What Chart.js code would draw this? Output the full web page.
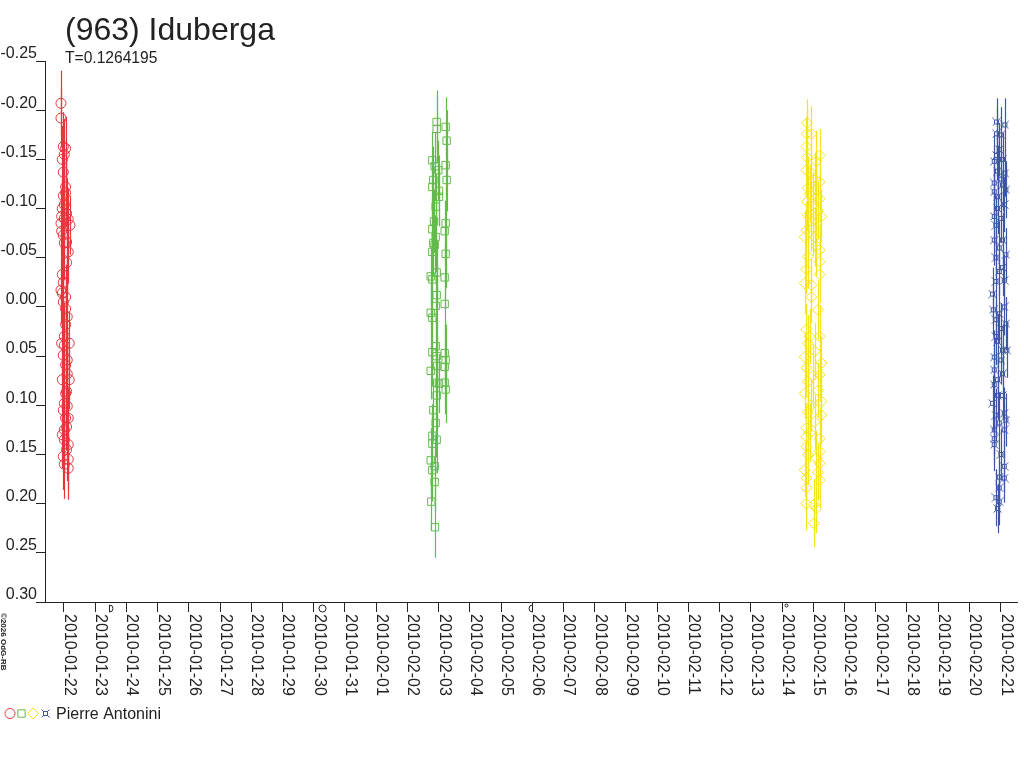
<!DOCTYPE html>
<html>
<head>
  <title>(963) Iduberga</title>
  <script src="https://cdn.jsdelivr.net/npm/chart.js"></script>
  <style>body { margin: 0; background: #fff; }</style>
</head>
<body>
  <canvas id="lc" width="1024" height="768"></canvas>

  <script>
    const title = '(963) Iduberga';
    const subtitle = 'T=0.1264195';
    const observer = 'Pierre Antonini';
    const credit = '\u00a92026 OdG-RB';

    // x in days since 2010-01-22 00:00 UT
    const xMin = -0.607, xMax = 30.543;
    const xTickDays = [0, 1, 2, 3, 4, 5, 6, 7, 8, 9, 10, 11, 12, 13, 14, 15,
      16, 17, 18, 19, 20, 21, 22, 23, 24, 25, 26, 27, 28, 29, 30];
    const xTickLabels = ['2010-01-22', '2010-01-23', '2010-01-24', '2010-01-25', '2010-01-26',
      '2010-01-27', '2010-01-28', '2010-01-29', '2010-01-30', '2010-01-31', '2010-02-01',
      '2010-02-02', '2010-02-03', '2010-02-04', '2010-02-05', '2010-02-06', '2010-02-07',
      '2010-02-08', '2010-02-09', '2010-02-10', '2010-02-11', '2010-02-12', '2010-02-13',
      '2010-02-14', '2010-02-15', '2010-02-16', '2010-02-17', '2010-02-18', '2010-02-19',
      '2010-02-20', '2010-02-21'];
    const yTickValues = [-0.25, -0.20, -0.15, -0.10, -0.05, 0, 0.05, 0.10, 0.15, 0.20, 0.25, 0.30];
    const yTickLabels = ['-0.25', '-0.20', '-0.15', '-0.10', '-0.05', '0.00', '0.05', '0.10',
      '0.15', '0.20', '0.25', '0.30'];

    const moonDays = [1.45, 8.26, 14.99, 23.12];
    const moonPhases = ['first', 'full', 'last', 'new'];

    // session 1 (2010-01-22)
    const redDays = [
      -0.096, -0.096, -0.021, 0.053, -0.053, 0.011, -0.021, 0.053, 0.053, -0.021,
      -0.074, 0.011, 0.138, 0.192, -0.074, -0.021, 0.085, 0.138, -0.053, -0.096,
      -0.053, -0.021, 0.053, 0.106, 0.053, 0.011, -0.074, 0.011, 0.170, -0.021,
      0.106, 0.053, -0.053, 0.170, 0.085, 0.011, 0.106, -0.021, 0.053, 0.138,
      0.085, 0.011, 0.011, 0.138, -0.021, 0.138, 0.011, 0.138, -0.053, 0.011,
      -0.096, 0.085, 0.011, 0.085, -0.021, 0.053, 0.106, 0.053, -0.053, 0.085];
    const redMags = [
      -0.207, -0.192, -0.163, -0.161, -0.150, -0.155, -0.137, -0.122, -0.116, -0.113,
      -0.092, -0.090, -0.089, -0.083, -0.077, -0.073, -0.066, -0.056, -0.033, -0.017,
      -0.014, -0.005, -0.010, 0.010, 0.018, 0.030, 0.037, 0.039, 0.037, 0.049,
      0.054, 0.059, 0.074, 0.074, 0.086, 0.098, 0.101, 0.105, 0.113, 0.113,
      0.122, 0.125, 0.135, 0.140, 0.152, 0.155, 0.160, 0.164, -0.100, -0.104,
      -0.085, -0.095, -0.065, -0.045, -0.025, 0.002, 0.068, 0.088, 0.130, 0.145];
    const redErrs = [
      0.033, 0.030, 0.035, 0.032, 0.034, 0.036, 0.033, 0.038, 0.035, 0.040,
      0.036, 0.034, 0.031, 0.030, 0.037, 0.039, 0.033, 0.032, 0.035, 0.034,
      0.036, 0.038, 0.033, 0.035, 0.037, 0.034, 0.036, 0.033, 0.031, 0.035,
      0.034, 0.036, 0.033, 0.030, 0.035, 0.034, 0.032, 0.036, 0.033, 0.031,
      0.034, 0.035, 0.033, 0.030, 0.034, 0.031, 0.035, 0.032, 0.037, 0.035,
      0.034, 0.036, 0.038, 0.033, 0.036, 0.034, 0.033, 0.035, 0.034, 0.032];

    // session 2 (2010-02-02/03)
    const greenDays = [
      11.938, 12.226, 11.938, 12.258, 11.800, 12.226, 11.874, 11.991, 12.258, 11.832,
      11.800, 12.013, 12.013, 11.906, 12.226, 11.853, 11.800, 12.194, 11.906, 11.832,
      11.874, 11.800, 12.226, 11.938, 11.747, 11.800, 12.194, 11.938, 11.906, 12.194,
      11.747, 11.800, 11.906, 12.194, 11.800, 11.938, 12.226, 11.959, 12.194, 11.747,
      11.906, 12.194, 12.013, 12.226, 11.938, 11.832, 11.906, 11.800, 11.938, 11.800,
      11.747, 11.874, 11.800, 11.874, 11.767, 11.885];
    const greenMags = [
      -0.188, -0.183, -0.181, -0.169, -0.149, -0.144, -0.143, -0.139, -0.129, -0.129,
      -0.122, -0.118, -0.112, -0.102, -0.085, -0.087, -0.079, -0.077, -0.071, -0.065,
      -0.063, -0.056, -0.054, -0.035, -0.031, -0.028, -0.030, -0.012, -0.001, -0.003,
      0.006, 0.011, 0.040, 0.047, 0.046, 0.050, 0.054, 0.060, 0.061, 0.065,
      0.077, 0.077, 0.078, 0.084, 0.090, 0.105, 0.118, 0.131, 0.135, 0.139,
      0.156, 0.162, 0.166, 0.178, 0.198, 0.224];
    const greenErrs = [
      0.032, 0.030, 0.034, 0.031, 0.029, 0.033, 0.035, 0.030, 0.032, 0.034,
      0.031, 0.036, 0.030, 0.033, 0.035, 0.032, 0.034, 0.031, 0.036, 0.033,
      0.030, 0.032, 0.035, 0.031, 0.029, 0.034, 0.033, 0.036, 0.032, 0.030,
      0.031, 0.035, 0.033, 0.030, 0.034, 0.032, 0.036, 0.031, 0.033, 0.029,
      0.035, 0.032, 0.030, 0.034, 0.033, 0.031, 0.035, 0.032, 0.034, 0.030,
      0.033, 0.031, 0.032, 0.030, 0.029, 0.031];

    // session 3 (2010-02-14/15)
    const yellowDays = [
      23.800, 23.940, 23.800, 23.780, 24.206, 23.800, 24.100, 23.780, 23.940, 24.206,
      23.830, 24.100, 24.206, 23.800, 23.990, 23.830, 24.260, 23.940, 23.780, 23.727,
      24.046, 24.206, 23.830, 24.206, 23.780, 24.206, 23.727, 23.940, 24.153, 23.780,
      23.886, 24.206, 23.830, 23.727, 24.260, 23.780, 24.206, 23.830, 23.727, 24.260,
      23.940, 23.830, 24.260, 24.046, 23.780, 23.780, 24.206, 23.780, 24.206, 23.830,
      24.100, 24.206, 23.727, 24.153, 23.780, 24.206, 23.780, 23.780, 24.020, 24.100,
      24.020, 23.886, 23.990, 24.100, 23.940, 24.046, 23.990, 24.153, 23.886, 24.046,
      24.153];
    const yellowMags = [
      -0.187, -0.176, -0.176, -0.163, -0.154, -0.152, -0.148, -0.139, -0.136, -0.127,
      -0.121, -0.119, -0.110, -0.107, -0.104, -0.093, -0.092, -0.087, -0.078, -0.071,
      -0.071, -0.058, -0.051, -0.046, -0.038, -0.033, -0.024, -0.022, 0.003, 0.023,
      0.030, 0.030, 0.037, 0.051, 0.057, 0.062, 0.069, 0.076, 0.088, 0.096,
      0.100, 0.107, 0.110, 0.117, 0.123, 0.132, 0.134, 0.142, 0.147, 0.150,
      0.154, 0.159, 0.166, 0.168, 0.174, 0.176, 0.184, 0.200, 0.201, 0.205,
      0.220, -0.115, -0.080, -0.062, -0.010, 0.045, 0.070, 0.085, 0.128, -0.130,
      -0.098];
    const yellowErrs = [
      0.024, 0.028, 0.026, 0.030, 0.027, 0.025, 0.031, 0.028, 0.026, 0.029,
      0.032, 0.027, 0.025, 0.030, 0.033, 0.028, 0.026, 0.031, 0.029, 0.027,
      0.030, 0.026, 0.032, 0.028, 0.025, 0.029, 0.031, 0.027, 0.030, 0.026,
      0.028, 0.032, 0.029, 0.025, 0.027, 0.030, 0.028, 0.031, 0.026, 0.029,
      0.027, 0.032, 0.030, 0.028, 0.025, 0.029, 0.031, 0.027, 0.026, 0.030,
      0.028, 0.025, 0.027, 0.029, 0.026, 0.028, 0.025, 0.027, 0.026, 0.025,
      0.024, 0.030, 0.028, 0.031, 0.027, 0.029, 0.032, 0.028, 0.030, 0.027,
      0.029];

    // session 4 (2010-02-20/21)
    const blueDays = [
      29.872, 30.138, 29.872, 30.011, 29.872, 30.064, 29.798, 29.904, 30.138, 29.798,
      30.064, 29.798, 30.170, 29.904, 30.117, 29.798, 30.011, 29.851, 29.798, 30.064,
      30.170, 29.851, 29.957, 29.851, 30.117, 29.744, 30.117, 29.766, 29.957, 29.851,
      30.170, 29.851, 30.064, 30.202, 29.798, 30.011, 29.798, 30.064, 29.904, 29.798,
      29.904, 29.744, 30.117, 30.170, 29.957, 29.798, 30.117, 29.798, 29.798, 30.117,
      29.957, 30.117, 29.957, 29.851, 29.957, 29.904, 29.957, 30.011, 29.904, 30.064,
      29.957, 30.011, 29.904, 30.064, 29.851, 30.011];
    const blueMags = [
      -0.188, -0.185, -0.176, -0.175, -0.154, -0.150, -0.148, -0.138, -0.136, -0.126,
      -0.124, -0.117, -0.119, -0.112, -0.104, -0.092, -0.090, -0.083, -0.068, -0.068,
      -0.053, -0.050, -0.036, -0.026, -0.027, -0.013, 0.000, 0.003, 0.007, 0.013,
      0.017, 0.030, 0.044, 0.044, 0.051, 0.054, 0.064, 0.068, 0.074, 0.079,
      0.090, 0.098, 0.108, 0.115, 0.118, 0.125, 0.125, 0.134, 0.140, 0.162,
      0.173, 0.174, 0.184, 0.194, 0.198, 0.205, -0.160, -0.130, -0.100, -0.040,
      -0.060, 0.022, 0.035, 0.090, 0.110, 0.150];
    const blueErrs = [
      0.024, 0.027, 0.026, 0.028, 0.025, 0.027, 0.029, 0.026, 0.024, 0.028,
      0.027, 0.025, 0.029, 0.026, 0.028, 0.027, 0.025, 0.030, 0.026, 0.028,
      0.027, 0.029, 0.025, 0.028, 0.026, 0.027, 0.029, 0.026, 0.028, 0.025,
      0.027, 0.029, 0.026, 0.028, 0.027, 0.025, 0.028, 0.026, 0.029, 0.027,
      0.025, 0.028, 0.026, 0.027, 0.029, 0.026, 0.028, 0.025, 0.027, 0.026,
      0.028, 0.025, 0.027, 0.029, 0.024, 0.025, 0.027, 0.028, 0.026, 0.029,
      0.027, 0.026, 0.028, 0.025, 0.027, 0.026];

    const ink = '#222';
    const fontFamily = '"Liberation Sans", Arial, sans-serif';
    Chart.defaults.font.family = fontFamily;

    // blue marker: little square with diagonal spikes, like ¤
    function blueMarker(color) {
      const c = document.createElement('canvas');
      c.width = 9; c.height = 9;
      const g = c.getContext('2d');
      g.strokeStyle = color;
      g.lineWidth = 1;
      g.strokeRect(2.5, 2.5, 4, 4);
      g.beginPath();
      g.moveTo(0.5, 0.5); g.lineTo(2.5, 2.5);
      g.moveTo(8.5, 0.5); g.lineTo(6.5, 2.5);
      g.moveTo(0.5, 8.5); g.lineTo(2.5, 6.5);
      g.moveTo(8.5, 8.5); g.lineTo(6.5, 6.5);
      g.stroke();
      return c;
    }

    function points(days, mags, errs) {
      return days.map((d, i) => ({ x: d, y: mags[i], err: errs[i] }));
    }

    const sessions = [
      { color: '#e8363e', style: 'circle', radius: 5, days: redDays, mags: redMags, errs: redErrs },
      { color: '#63bb4b', style: 'rect', radius: 5.2, days: greenDays, mags: greenMags, errs: greenErrs },
      { color: '#f5e31d', style: 'rectRot', radius: 5.5, days: yellowDays, mags: yellowMags, errs: yellowErrs },
      { color: '#3d56a6', style: null, radius: 4.5, days: blueDays, mags: blueMags, errs: blueErrs }
    ];
    sessions[3].style = blueMarker(sessions[3].color);

    const datasets = sessions.map((s) => ({
      data: points(s.days, s.mags, s.errs),
      borderColor: s.color,
      backgroundColor: 'transparent',
      pointStyle: s.style,
      pointRadius: s.radius,
      pointBorderWidth: 1,
      showLine: false
    }));

    const errorBars = {
      id: 'errorBars',
      beforeDatasetsDraw(chart) {
        const { ctx, scales: { x, y } } = chart;
        ctx.save();
        ctx.lineWidth = 1.2;
        chart.data.datasets.forEach((ds) => {
          ctx.strokeStyle = ds.borderColor;
          ds.data.forEach((p) => {
            const px = Math.round(x.getPixelForValue(p.x)) + 0.5;
            ctx.beginPath();
            ctx.moveTo(px, y.getPixelForValue(p.y - p.err));
            ctx.lineTo(px, y.getPixelForValue(p.y + p.err));
            ctx.stroke();
          });
        });
        ctx.restore();
      }
    };

    const decorations = {
      id: 'decorations',
      afterDraw(chart) {
        const { ctx, scales: { x } } = chart;
        ctx.save();
        ctx.fillStyle = ink;
        ctx.textAlign = 'left';
        ctx.textBaseline = 'alphabetic';

        ctx.font = '32px ' + fontFamily;
        ctx.fillText(title, 65, 40);
        ctx.font = '15.6px ' + fontFamily;
        ctx.fillText(subtitle, 65, 63);

        // date labels, reading downwards
        ctx.font = '16px ' + fontFamily;
        xTickDays.forEach((d, i) => {
          ctx.save();
          ctx.translate(Math.round(x.getPixelForValue(d)) + 1, 614);
          ctx.rotate(Math.PI / 2);
          ctx.fillText(xTickLabels[i], 0, 0);
          ctx.restore();
        });

        // moon phases along the time axis
        ctx.strokeStyle = ink;
        ctx.lineWidth = 1;
        moonDays.forEach((d, i) => {
          const cx = Math.round(x.getPixelForValue(d)) + 0.5;
          const cy = 608.5, r = 3.5;
          ctx.beginPath();
          if (moonPhases[i] === 'first') {
            ctx.moveTo(cx, cy - r);
            ctx.arc(cx, cy, r, -Math.PI / 2, Math.PI / 2);
            ctx.closePath();
          } else if (moonPhases[i] === 'last') {
            ctx.moveTo(cx, cy + r);
            ctx.arc(cx, cy, r, Math.PI / 2, Math.PI * 1.5);
            ctx.closePath();
          } else if (moonPhases[i] === 'full') {
            ctx.arc(cx, cy, r, 0, Math.PI * 2);
          } else {
            ctx.arc(cx, cy - 3, 1.5, 0, Math.PI * 2);
          }
          ctx.stroke();
        });

        // credit, tiny and vertical
        ctx.save();
        ctx.font = 'bold 8px ' + fontFamily;
        ctx.translate(1, 613);
        ctx.rotate(Math.PI / 2);
        ctx.fillText(credit, 0, 0);
        ctx.restore();

        // legend: the four symbols then the observer
        const legendX = [10, 21.5, 33, 45.5];
        chart.data.datasets.forEach((ds, i) => {
          ctx.strokeStyle = ds.borderColor;
          ctx.fillStyle = 'transparent';
          Chart.helpers.drawPoint(ctx, {
            pointStyle: ds.pointStyle,
            radius: ds.pointRadius,
            borderWidth: 1,
            rotation: 0
          }, legendX[i], 713.5);
        });
        ctx.fillStyle = ink;
        ctx.font = '16px ' + fontFamily;
        ctx.fillText(observer, 56, 719);
        ctx.restore();
      }
    };

    const ctx = document.getElementById('lc').getContext('2d');
    new Chart(ctx, {
      type: 'scatter',
      data: { datasets },
      options: {
        responsive: false,
        animation: false,
        events: [],
        layout: { padding: { top: 61, right: 4, bottom: 0, left: 0 } },
        plugins: {
          legend: { display: false },
          tooltip: { enabled: false }
        },
        scales: {
          x: {
            type: 'linear',
            min: xMin,
            max: xMax,
            afterBuildTicks: (s) => { s.ticks = xTickDays.map((v) => ({ value: v })); },
            afterFit: (s) => { s.height = 166; },
            ticks: { display: false },
            grid: { drawOnChartArea: false, tickLength: 10, color: ink },
            border: { color: ink }
          },
          y: {
            reverse: true,
            min: -0.25,
            max: 0.30,
            afterBuildTicks: (s) => { s.ticks = yTickValues.map((v) => ({ value: v })); },
            afterFit: (s) => { s.width = 45; },
            ticks: {
              callback: (v, i) => yTickLabels[i],
              color: ink,
              font: { size: 16 },
              padding: -1,
              labelOffset: -7
            },
            grid: { drawOnChartArea: false, tickLength: 9, color: ink },
            border: { color: ink }
          }
        }
      },
      plugins: [errorBars, decorations]
    });
  </script>
</body>
</html>
